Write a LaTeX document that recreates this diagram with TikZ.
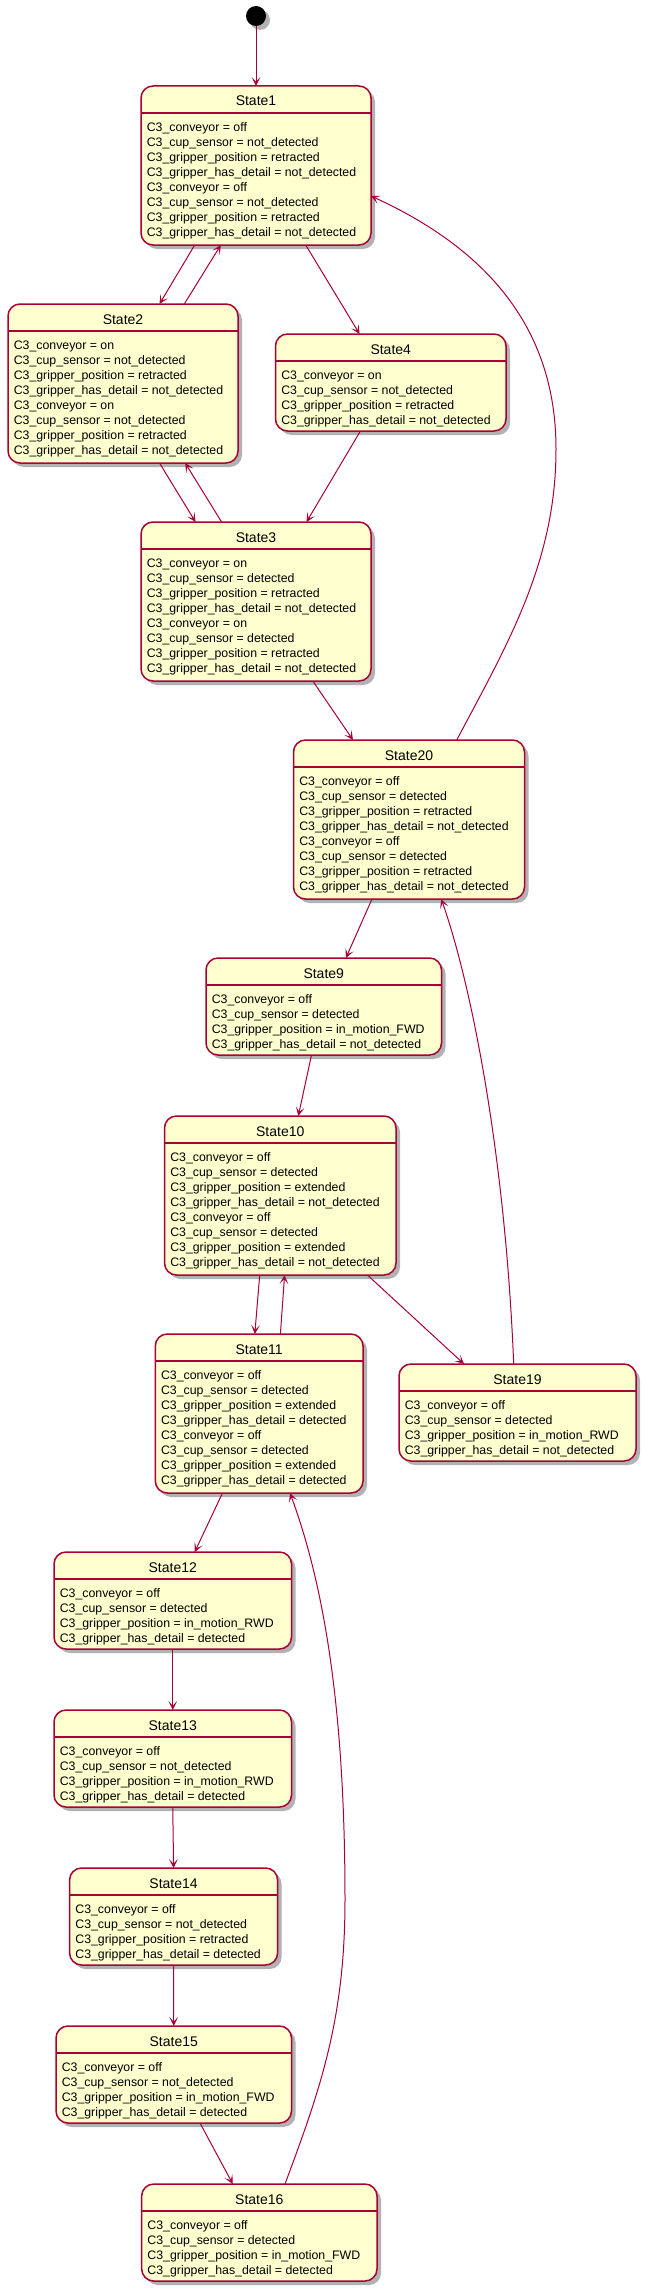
\documentclass[tikz,border=0pt]{standalone}
\usepackage{fontspec}
\setmainfont{Liberation Sans}
\usetikzlibrary{arrows.meta,calc,shadows}
\definecolor{bord}{HTML}{A80036}
\definecolor{sfill}{HTML}{FEFECE}
\tikzset{
  sbox/.style={draw=bord, fill=sfill, line width=1.125pt, rounded corners=9pt,
    inner sep=0pt, outer sep=0pt,
    drop shadow={shadow xshift=3pt, shadow yshift=-3pt, opacity=0.3, fill=black}},
  sepline/.style={draw=bord, line width=1.125pt},
  stitle/.style={anchor=base, inner sep=0pt, font=\fontsize{10.5pt}{12pt}\selectfont},
  sbody/.style={anchor=north west, inner sep=0pt, align=left,
    font=\fontsize{9.25pt}{11.25pt}\selectfont},
  arr/.style={draw=bord, line width=0.75pt,
    -{Stealth[length=6.75pt,width=6.5pt,inset=3.6pt]}},
  initst/.style={circle, fill=black, inner sep=0pt, minimum size=15pt,
    drop shadow={shadow xshift=3pt, shadow yshift=-3pt, opacity=0.3, fill=black}}
}
\newcommand{\fourlines}[4]{C3\_conveyor = #1\\C3\_cup\_sensor = #2\\C3\_gripper\_position = #3\\C3\_gripper\_has\_detail = #4}
\newcommand{\stnode}[7]{%
  \node[sbox, minimum width=#4*0.75pt, minimum height=#5*0.75pt] (#1) at (#2,#3) {};
  \draw[sepline] ($(#1.north west)+(0,27)$) -- ($(#1.north east)+(0,27)$);
  \node[stitle] (#1t) at ($(#1.north)+(0,20)$) {#6};
  \node[sbody] (#1b) at ($(#1.north west)+(5.5,35.5)$) {\rule{0pt}{7.5pt}#7};
}
\begin{document}
\begin{tikzpicture}[x=0.75pt,y=-0.75pt]
\fill[white] (0,0) rectangle (646,2294);
\useasboundingbox (0,0) rectangle (646,2294);

\node[initst] (init) at (256,16) {};

\stnode{S1}{256}{165.5}{230}{159}{State1}{\fourlines{off}{not\_detected}{retracted}{not\_detected}\\\fourlines{off}{not\_detected}{retracted}{not\_detected}}
\stnode{S2}{123}{383.5}{230}{159}{State2}{\fourlines{on}{not\_detected}{retracted}{not\_detected}\\\fourlines{on}{not\_detected}{retracted}{not\_detected}}
\stnode{S4}{390.75}{382.5}{230.5}{97}{State4}{\fourlines{on}{not\_detected}{retracted}{not\_detected}}
\stnode{S3}{256}{601.5}{230}{159}{State3}{\fourlines{on}{detected}{retracted}{not\_detected}\\\fourlines{on}{detected}{retracted}{not\_detected}}
\stnode{S20}{409}{819.5}{231}{159}{State20}{\fourlines{off}{detected}{retracted}{not\_detected}\\\fourlines{off}{detected}{retracted}{not\_detected}}
\stnode{S9}{323.75}{1006.5}{235.5}{97}{State9}{\fourlines{off}{detected}{in\_motion\_FWD}{not\_detected}}
\stnode{S10}{280.25}{1195.5}{231.5}{159}{State10}{\fourlines{off}{detected}{extended}{not\_detected}\\\fourlines{off}{detected}{extended}{not\_detected}}
\stnode{S11}{259.15}{1413.5}{207.7}{159}{State11}{\fourlines{off}{detected}{extended}{detected}\\\fourlines{off}{detected}{extended}{detected}}
\stnode{S19}{517.5}{1412.5}{237}{97}{State19}{\fourlines{off}{detected}{in\_motion\_RWD}{not\_detected}}
\stnode{S12}{172.75}{1600.5}{237.5}{97}{State12}{\fourlines{off}{detected}{in\_motion\_RWD}{detected}}
\stnode{S13}{172.75}{1758.5}{237.5}{97}{State13}{\fourlines{off}{not\_detected}{in\_motion\_RWD}{detected}}
\stnode{S14}{173.6}{1916.5}{208}{97}{State14}{\fourlines{off}{not\_detected}{retracted}{detected}}
\stnode{S15}{173.75}{2074.5}{235.5}{97}{State15}{\fourlines{off}{not\_detected}{in\_motion\_FWD}{detected}}
\stnode{S16}{259.35}{2232.5}{235.3}{97}{State16}{\fourlines{off}{detected}{in\_motion\_FWD}{detected}}

% connectors
\draw[arr] (init) -- (S1.north);
\draw[arr] ($(S1.south)+(-61.3,0)$) -- ($(S2.north)+(36.5,0)$);
\draw[arr] ($(S2.north)+(61.3,0)$) -- ($(S1.south)+(-35.2,0)$);
\draw[arr] ($(S1.south)+(49.7,0)$) -- ($(S4.north)+(-31.15,0)$);
\draw[arr] ($(S2.south)+(36.5,0)$) -- ($(S3.north)+(-60.5,0)$);
\draw[arr] ($(S3.north)+(-34.4,0)$) -- ($(S2.south)+(62.2,0)$);
\draw[arr] ($(S4.south)+(-30.35,0)$) -- ($(S3.north)+(50.5,0)$);
\draw[arr] ($(S3.south)+(56.8,0)$) -- ($(S20.north)+(-56,0)$);
\draw[arr] ($(S20.north)+(47.7,0)$) .. controls (510,640) and (556,560) .. (556,449)
  .. controls (556,340) and (500,255) .. ($(S1.east)+(0,30.5)$);
\draw[arr] ($(S20.south)+(-37,0)$) -- ($(S9.north)+(22.15,0)$);
\draw[arr] ($(S9.south)+(-12.25,0)$) -- ($(S10.north)+(18.05,0)$);
\draw[arr] ($(S10.south)+(-20.55,0)$) -- ($(S11.north)+(-4.35,0)$);
\draw[arr] ($(S11.north)+(21.25,0)$) -- ($(S10.south)+(4.35,0)$);
\draw[arr] ($(S10.south)+(87.15,0)$) -- ($(S19.north)+(-53.5,0)$);
\draw[arr] ($(S19.north)+(-3.8,0)$) .. controls (505,1150) and (470,980) .. ($(S20.south)+(32.2,0)$);
\draw[arr] ($(S11.south)+(-36.65,0)$) -- ($(S12.north)+(21.95,0)$);
\draw[arr] (S12.south) -- (S13.north);
\draw[arr] (S13.south) -- (S14.north);
\draw[arr] (S14.south) -- (S15.north);
\draw[arr] ($(S15.south)+(26.25,0)$) -- ($(S16.north)+(-26.55,0)$);
\draw[arr] ($(S16.north)+(25.65,0)$) .. controls (320,2090) and (345,2020) .. (345,1900)
  .. controls (345,1700) and (322,1580) .. ($(S11.south)+(30.85,0)$);
\end{tikzpicture}
\end{document}
